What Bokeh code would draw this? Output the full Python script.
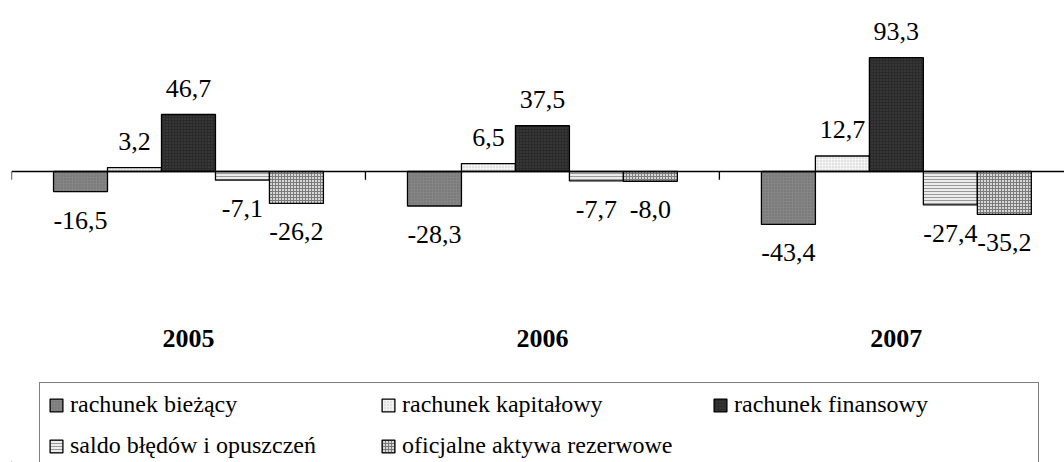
from bokeh.plotting import figure
from bokeh.layouts import column
from bokeh.models import ColumnDataSource, Range1d, Span, FixedTicker, Legend, LegendItem
from bokeh.core.properties import value
from bokeh.embed import file_html
from bokeh.resources import INLINE

# ---- data ----
years = ["2005", "2006", "2007"]
names = ["rachunek bieżący", "rachunek kapitałowy", "rachunek finansowy",
         "saldo błędów i opuszczeń", "oficjalne aktywa rezerwowe"]
biezacy = [-16.5, -28.3, -43.4]
kapitalowy = [3.2, 6.5, 12.7]
finansowy = [46.7, 37.5, 93.3]
saldo = [-7.1, -7.7, -27.4]
oficjalne = [-26.2, -8.0, -35.2]
series = [biezacy, kapitalowy, finansowy, saldo, oficjalne]

# ---- styles ----
styles = [
    dict(fill_color="#858585", hatch_pattern="dot", hatch_color="#6a6a6a", hatch_scale=3, hatch_weight=1),
    dict(fill_color="#f4f4f4", hatch_pattern="dot", hatch_color="#c4c4c4", hatch_scale=3, hatch_weight=1),
    dict(fill_color="#2a2a2a", hatch_pattern="dot", hatch_color="#4a4a4a", hatch_scale=3, hatch_weight=1),
    dict(fill_color="#ececec", hatch_pattern="horizontal_line", hatch_color="#9a9a9a", hatch_scale=3, hatch_weight=1),
    dict(fill_color="#d8d8d8", hatch_pattern="cross", hatch_color="#7a7a7a", hatch_scale=3, hatch_weight=1),
]
FONT = "'Liberation Serif', 'Times New Roman', serif"
BAR_W = 0.1525
n = len(years)
k = len(series)

p = figure(width=1064, height=352, output_backend="svg", toolbar_location=None,
           x_range=Range1d(0, 2.975), y_range=Range1d(-120.5, 133.6),
           min_border_left=11, min_border_right=0, min_border_top=8, min_border_bottom=34,
           y_axis_location=None, outline_line_color=None)
p.xgrid.grid_line_color = None
p.ygrid.grid_line_color = None

# zero line and category boundary ticks
p.add_layout(Span(location=0, dimension="width", line_color="black", line_width=1.3))
bounds = list(range(n + 1))
p.segment(x0=bounds, y0=[0] * len(bounds), x1=bounds, y1=[-6.8] * len(bounds),
          line_color="black", line_width=1.3)

pos = dict(x=[], y=[], t=[])
neg = dict(x=[], y=[], t=[])
for j, (vals, st) in enumerate(zip(series, styles)):
    xs = [i + 0.5 + (j - (k - 1) / 2) * BAR_W for i in range(n)]
    src = ColumnDataSource(dict(x=xs, top=vals))
    p.vbar(x="x", top="top", bottom=0, width=BAR_W, source=src,
           line_color="black", line_width=1.3, **st)
    for xv, v in zip(xs, vals):
        d = pos if v >= 0 else neg
        d["x"].append(xv)
        d["y"].append(v)
        d["t"].append(f"{v:.1f}".replace(".", ","))

p.text(x="x", y="y", text="t", source=ColumnDataSource(pos), text_align="center",
       text_baseline="alphabetic", y_offset=-26, text_font=value(FONT),
       text_font_size="26px", text_color="black")
p.text(x="x", y="y", text="t", source=ColumnDataSource(neg), text_align="center",
       text_baseline="top", y_offset=20, text_font=value(FONT),
       text_font_size="26px", text_color="black")

# category axis
ax = p.xaxis[0]
ax.ticker = FixedTicker(ticks=[i + 0.5 for i in range(n)])
ax.major_label_overrides = {i + 0.5: y for i, y in enumerate(years)}
ax.axis_line_color = None
ax.major_tick_line_color = None
ax.minor_tick_line_color = None
ax.major_label_text_font = FONT
ax.major_label_text_font_style = "bold"
ax.major_label_text_font_size = "26px"
ax.major_label_text_color = "black"
ax.major_label_standoff = 5

# ---- legend panel ----
pl = figure(width=1064, height=110, output_backend="svg", toolbar_location=None,
            x_range=Range1d(0, 1), y_range=Range1d(0, 1), min_border=0,
            x_axis_location=None, y_axis_location=None, outline_line_color=None)
pl.xgrid.grid_line_color = None
pl.ygrid.grid_line_color = None
leg_renderers = []
for st in styles:
    # zero-height stand-in outside the visible range, used only for the legend swatch
    r = pl.vbar(x=[-1], top=[0], bottom=0, width=0.1, line_color="black", line_width=1.3, **st)
    leg_renderers.append(r)

legend = Legend(items=[LegendItem(label=nm, renderers=[r]) for nm, r in zip(names, leg_renderers)],
                orientation="horizontal", ncols=3, location=(28, -6),
                glyph_width=16, glyph_height=16, label_standoff=6, label_width=296,
                label_height=27, spacing=14, padding=8, margin=0,
                label_text_font=FONT, label_text_font_size="24px", label_text_color="black",
                border_line_color="black", border_line_width=1.3,
                background_fill_color="white", background_fill_alpha=1.0)
pl.add_layout(legend, "center")

layout = column(p, pl, spacing=0)
open("out.html", "w").write(file_html(layout, INLINE))
